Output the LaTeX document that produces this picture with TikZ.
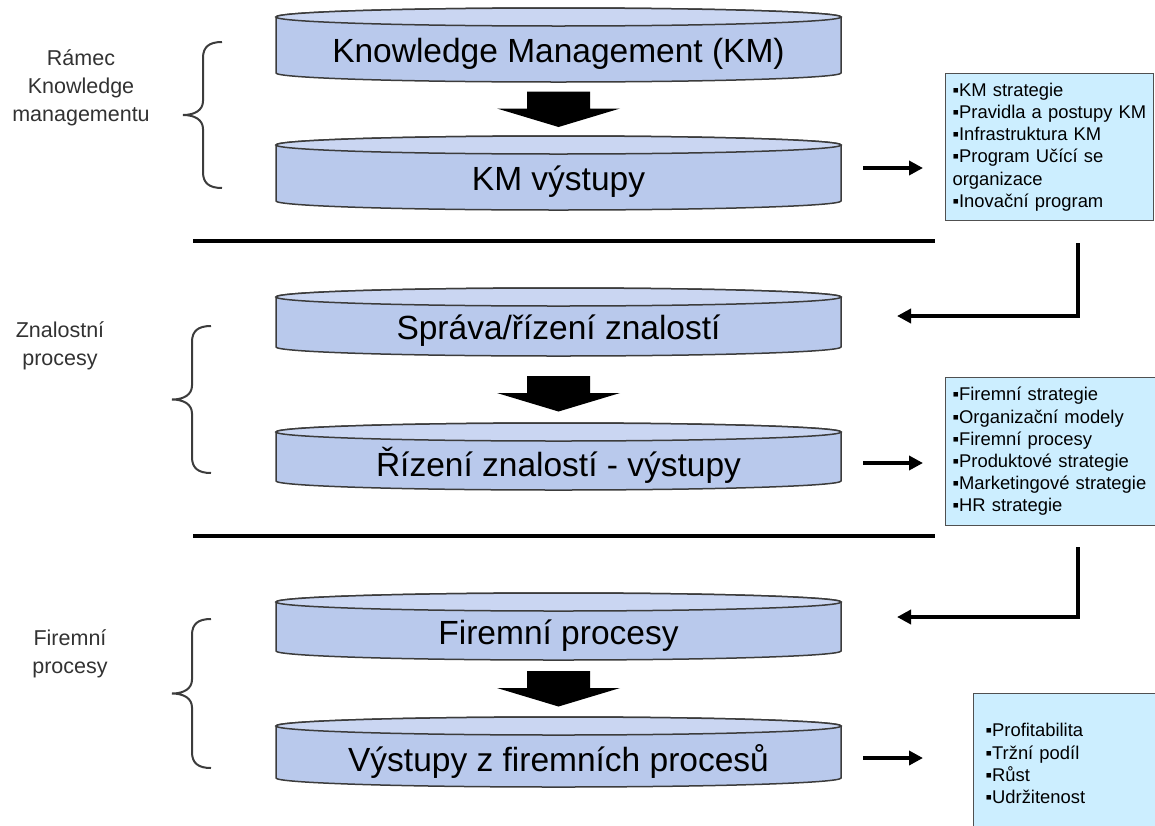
\documentclass[tikz,border=0pt]{standalone}
\usepackage{fontspec}
\setmainfont{Liberation Sans}
\usepackage{tikz}
\usetikzlibrary{arrows.meta}
\usetikzlibrary{calc}
\usetikzlibrary{positioning}
\definecolor{discbody}{RGB}{185,201,236}
\definecolor{disccap}{RGB}{202,214,242}
\definecolor{discline}{RGB}{60,60,60}
\definecolor{infofill}{RGB}{204,238,255}
\definecolor{infoline}{RGB}{80,80,80}
\definecolor{labelgray}{RGB}{50,50,50}
\tikzset{discshape/.style = {fill = discbody, draw = discline, line width = 1.5pt}}
\tikzset{disccapshape/.style = {fill = disccap, draw = discline, line width = 1.5pt}}
\tikzset{disctext/.style = {inner sep = 0, font = \fontsize{33.5}{40}\selectfont}}
\tikzset{infobox/.style = {draw = infoline, fill = infofill, line width = 1.2pt, anchor = north west,
                           align = left, inner xsep = 7pt, inner ysep = 0pt,
                           font = \fontsize{18.4}{22.2}\selectfont}}
\tikzset{sidelabel/.style = {align = center, text = labelgray, font = \fontsize{21.5}{28}\selectfont}}
\tikzset{flowarrow/.style = {line width = 4pt, -{Triangle[length = 14pt, width = 14pt]}}}
\tikzset{sepline/.style = {line width = 4pt}}
\tikzset{bracepen/.style = {line width = 2pt, draw = discline}}
\tikzset{blockdown/.style = {fill = black}}

% name, top, bottom, text
\newcommand{\drawdisc}[4]{%
  \filldraw[discshape] (276,-#2-9) -- (276,-#3+9)
    arc[start angle = 180, end angle = 360, x radius = 282.5pt, y radius = 9pt]
    -- (841,-#2-9)
    arc[start angle = 0, end angle = 180, x radius = 282.5pt, y radius = 9pt] -- cycle;
  \filldraw[disccapshape] (558.5,-#2-9) ellipse [x radius = 282.5pt, y radius = 9pt];
  \coordinate (#1 top) at (558.5,-#2);
  \coordinate (#1 bot) at (558.5,-#3);
  \node[disctext] (#1) at (558.5,{-(#2+18+#3)/2}) {#4};
}
% stem x, top, bottom
\newcommand{\sidebrace}[3]{%
  \draw[bracepen] ({#1+19},-#2) .. controls ({#1+6},-#2) and (#1,{-#2-5}) .. (#1,{-#2-16})
    -- (#1,{-(#2+#3)/2+14}) .. controls (#1,{-(#2+#3)/2+5}) and ({#1-8},{-(#2+#3)/2}) .. ({#1-20},{-(#2+#3)/2})
    .. controls ({#1-8},{-(#2+#3)/2}) and (#1,{-(#2+#3)/2-5}) .. (#1,{-(#2+#3)/2-14})
    -- (#1,{-#3+16}) .. controls (#1,{-#3+5}) and ({#1+6},-#3) .. ({#1+19},-#3);
}
% name, upper disc, lower disc, shift
\newcommand{\downblock}[4]{%
  \coordinate (#1) at ($(#2 bot)!.5!(#3 top) + (0,-#4)$);
  \fill[blockdown] ([xshift = -31.5pt, yshift = 17.5pt]#1) -- ++(63,0) -- ++(0,-17) -- ++(30,0)
    -- ++(-61.5,-18.5) -- ++(-61.5,18.5) -- ++(30,0) -- cycle;
}

\begin{document}
\begin{tikzpicture}[x = 1pt, y = 1pt]
  \useasboundingbox (0,0) rectangle (1155,-825);

  % discs
  \drawdisc{km}{8}{82}{Knowledge Management (KM)}
  \drawdisc{kmvys}{136}{210}{KM výstupy}
  \drawdisc{sprava}{288}{356}{Správa/řízení znalostí}
  \drawdisc{rizeni}{423}{490}{Řízení znalostí - výstupy}
  \drawdisc{firproc}{593}{660}{Firemní procesy}
  \drawdisc{firvys}{717}{787}{Výstupy z firemních procesů}

  \downblock{d1}{km}{kmvys}{0}
  \downblock{d2}{sprava}{rizeni}{4}
  \downblock{d3}{firproc}{firvys}{0}

  % separators
  \draw[sepline] (193,-241) -- (935,-241);
  \draw[sepline] (193,-536) -- (935,-536);

  % braces and labels
  \sidebrace{203}{42}{188}
  \sidebrace{192}{326}{473}
  \sidebrace{192}{619}{768}
  \node[sidelabel] (ramec) at (81,-88) {Rámec\\Knowledge\\managementu};
  \node[sidelabel] (znal) at (60,-346) {Znalostní\\procesy};
  \node[sidelabel] (firm) at (70,-654) {Firemní\\procesy};

  % output boxes
  \node[infobox, minimum width = 208pt, minimum height = 147pt, text width = 194pt] (kminfo) at (945,-73)
    {▪KM strategie\\▪Pravidla a postupy KM\\▪Infrastruktura KM\\▪Program Učící se\\organizace\\▪Inovační program};
  \node[infobox, minimum width = 210pt, minimum height = 148pt, text width = 196pt] (rizinfo) at (945,-377)
    {▪Firemní strategie\\▪Organizační modely\\▪Firemní procesy\\▪Produktové strategie\\▪Marketingové strategie\\▪HR strategie};
  \node[infobox, inner xsep = 12pt, minimum width = 200pt, minimum height = 140pt, text width = 176pt] (firinfo) at (973,-693)
    {▪Profitabilita\\▪Tržní podíl\\▪Růst\\▪Udržitenost};

  % arrows to the boxes
  \coordinate (kmarrow) at (863,-168);
  \coordinate (rizarrow) at (863,-463);
  \coordinate (firarrow) at (863,-758);
  \draw[flowarrow, shorten > = 22pt] (kmarrow) -- (kmarrow -| kminfo.west);
  \draw[flowarrow, shorten > = 22pt] (rizarrow) -- (rizarrow -| rizinfo.west);
  \draw[flowarrow, shorten > = 50pt] (firarrow) -- (firarrow -| firinfo.west);

  % feedback arrows
  \coordinate (kmdrop) at (1078,-243);
  \coordinate (spravain) at (897,-316);
  \coordinate (rizdrop) at (1078,-547);
  \coordinate (firprocin) at (897,-617);
  \draw[flowarrow] (kmdrop) |- (spravain);
  \draw[flowarrow] (rizdrop) |- (firprocin);
\end{tikzpicture}
\end{document}
